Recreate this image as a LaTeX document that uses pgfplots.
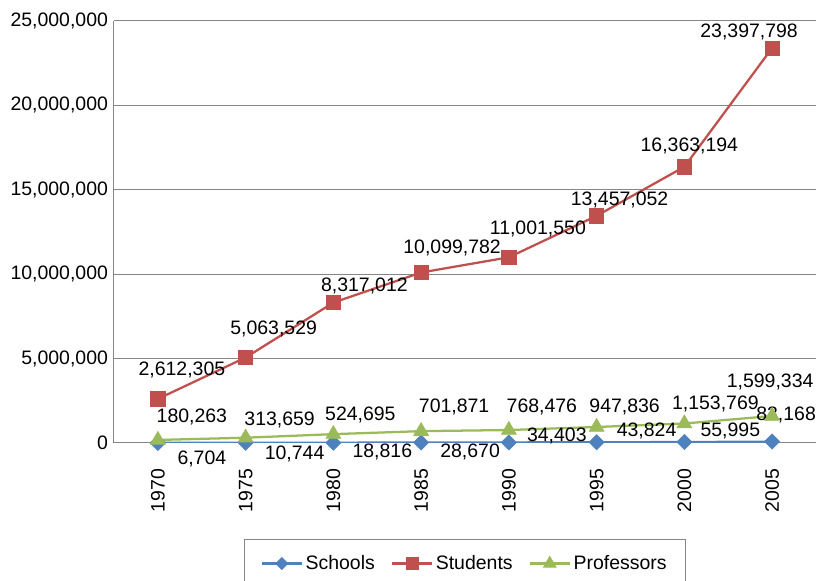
\documentclass[border=0pt]{standalone}
\usepackage{pgfplots}
\pgfplotsset{compat=1.18}
\usepackage{fontspec}
\setmainfont{Liberation Sans}

\definecolor{cSchools}{RGB}{79,129,189}
\definecolor{cStudents}{RGB}{192,80,77}
\definecolor{cProf}{RGB}{155,187,89}
\definecolor{cGrid}{RGB}{134,134,134}

\newcommand{\chartfont}{\fontsize{14.6}{17}\selectfont}

\pgfplotsset{
  schoolsStyle/.style={color=cSchools, line width=1.7pt, mark=square*, mark size=4pt,
    mark options={rotate=45, line width=0.5pt}},
  studentsStyle/.style={color=cStudents, line width=1.7pt, mark=square*, mark size=5.4pt,
    mark options={line width=0.5pt}},
  profStyle/.style={color=cProf, line width=1.7pt, mark=triangle*, mark size=6.4pt,
    mark options={line width=0.5pt}},
}

\begin{document}
\begin{tikzpicture}
\useasboundingbox (-85.5pt,-103.5pt) rectangle (528pt,332.25pt);
\begin{axis}[
  at={(0,0)}, anchor=south west,
  scale only axis,
  width=526.5pt, height=316.5pt,
  xmin=-0.5, xmax=7.5,
  ymin=0, ymax=25000000,
  axis x line=bottom, axis y line=left,
  axis line style={-, color=cGrid, line width=0.75pt},
  xtick={0,...,7},
  xticklabels={1970,1975,1980,1985,1990,1995,2000,2005},
  ytick={0,5000000,10000000,15000000,20000000,25000000},
  scaled y ticks=false,
  major tick length=0pt,
  ymajorgrids,
  grid style={color=cGrid, line width=0.75pt},
  /pgf/number format/.cd, fixed, precision=0, 1000 sep={,}, assume math mode=true,
  /pgfplots/.cd,
  yticklabel style={font=\chartfont, xshift=-1pt},
  xticklabel style={font=\chartfont, yshift=-16pt, rotate=90, anchor=east},
  legend columns=3,
  legend style={
    at={(0.5,-0.2275)}, anchor=north,
    font=\chartfont,
    draw=cGrid, line width=0.75pt,
    inner xsep=12pt, inner ysep=10pt,
    /tikz/every even column/.append style={column sep=10pt},
  },
  legend image code/.code={
    \draw[mark repeat=2, mark phase=2, #1] plot coordinates {(0pt,0pt) (15pt,0pt) (30pt,0pt)};
  },
]
% x = category index (1970, 1975, ..., 2005); dx/dy = label offset
\addplot[schoolsStyle, forget plot,
  point meta=explicit symbolic, nodes near coords,
  visualization depends on={value \thisrow{dx}\as\dx},
  visualization depends on={value \thisrow{dy}\as\dy},
  nodes near coords style={font=\chartfont, color=black, anchor=center,
    inner sep=0pt, xshift=\dx*0.75pt, yshift=\dy*0.75pt}]
  table[x=x, y=y, meta=lab] {
x y lab dx dy
0 6704 6,704 44 -16
1 10744 10,744 49 -11
2 18816 18,816 49 -9
3 28670 28,670 49 -9
4 34403 34,403 48 6
5 43824 43,824 50 11
6 55995 55,995 46 11
7 83168 83,168 14 27
};
\addplot[studentsStyle, forget plot,
  point meta=explicit symbolic, nodes near coords,
  visualization depends on={value \thisrow{dx}\as\dx},
  visualization depends on={value \thisrow{dy}\as\dy},
  nodes near coords style={font=\chartfont, color=black, anchor=center,
    inner sep=0pt, xshift=\dx*0.75pt, yshift=\dy*0.75pt}]
  table[x=x, y=y, meta=lab] {
x y lab dx dy
0 2612305 2,612,305 24 29
1 5063529 5,063,529 28 29
2 8317012 8,317,012 31 17
3 10099782 10,099,782 31 25
4 11001550 11,001,550 29 28
5 13457052 13,457,052 23 16
6 16363194 16,363,194 5 21
7 23397798 23,397,798 -23 16
};
\addplot[profStyle, forget plot,
  point meta=explicit symbolic, nodes near coords,
  visualization depends on={value \thisrow{dx}\as\dx},
  visualization depends on={value \thisrow{dy}\as\dy},
  nodes near coords style={font=\chartfont, color=black, anchor=center,
    inner sep=0pt, xshift=\dx*0.75pt, yshift=\dy*0.75pt}]
  table[x=x, y=y, meta=lab] {
x y lab dx dy
0 180263 180,263 34 23
1 313659 313,659 34 18
2 524695 524,695 27 19
3 701871 701,871 33 24
4 768476 768,476 33 23
5 947836 947,836 28 20
6 1153769 1,153,769 31 20
7 1599334 1,599,334 -2 34
};

\addlegendimage{schoolsStyle, mark size=3.2pt}
\addlegendentry{Schools}
\addlegendimage{studentsStyle, mark size=4.5pt}
\addlegendentry{Students}
\addlegendimage{profStyle, mark size=5.5pt}
\addlegendentry{Professors}
\end{axis}
\end{tikzpicture}
\end{document}
